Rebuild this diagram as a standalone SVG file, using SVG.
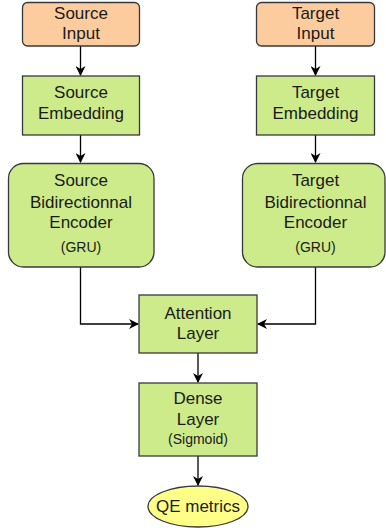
<svg xmlns="http://www.w3.org/2000/svg" width="386" height="528" viewBox="0 0 386 528">
<style>
.in{fill:#fccc9e;stroke:#36393d;stroke-width:1.3}
.gr{fill:#cdeb8b;stroke:#36393d;stroke-width:1.3}
.el{fill:#ffff88;stroke:#36393d;stroke-width:1.3}
text{font-family:"Liberation Sans",Arial,sans-serif;font-size:17px;fill:#1a1a1a;text-anchor:middle}
text.s{font-size:14px}
.c{fill:none;stroke:#000;stroke-width:1.3}
</style>
<defs>
<marker id="ah" viewBox="0 0 10 10" refX="9" refY="5" markerWidth="10" markerHeight="10" markerUnits="userSpaceOnUse" orient="auto">
<path d="M0,0 L10,5 L0,10 L3,5 Z" fill="#000"/>
</marker>
</defs>
<g id="connectors">
<path class="c" d="M80.5,46 V75" marker-end="url(#ah)"/>
<path class="c" d="M80.5,135 V162" marker-end="url(#ah)"/>
<path class="c" d="M315.5,46 V75" marker-end="url(#ah)"/>
<path class="c" d="M315.5,135 V162" marker-end="url(#ah)"/>
<path class="c" d="M80.5,267 V324 H138" marker-end="url(#ah)"/>
<path class="c" d="M315.5,267 V324 H258" marker-end="url(#ah)"/>
<path class="c" d="M198,353 V382" marker-end="url(#ah)"/>
<path class="c" d="M198,456 V485" marker-end="url(#ah)"/>
</g>
<g id="source-input">
<rect class="in" x="22.5" y="2.5" width="117" height="43.5" rx="5"/>
<text x="81" y="19">Source</text>
<text x="81" y="39">Input</text>
</g>
<g id="target-input">
<rect class="in" x="256.5" y="2.5" width="118" height="43.5" rx="5"/>
<text x="315.5" y="19">Target</text>
<text x="315.5" y="39">Input</text>
</g>
<g id="source-embedding">
<rect class="gr" x="22.5" y="76" width="117" height="59"/>
<text x="81" y="98">Source</text>
<text x="81" y="119">Embedding</text>
</g>
<g id="target-embedding">
<rect class="gr" x="256.5" y="76" width="118" height="59"/>
<text x="315.5" y="98">Target</text>
<text x="315.5" y="119">Embedding</text>
</g>
<g id="source-encoder">
<rect class="gr" x="8.5" y="163.5" width="145.5" height="103.5" rx="15"/>
<text x="81" y="186">Source</text>
<text x="81" y="208">Bidirectionnal</text>
<text x="81" y="228">Encoder</text>
<text class="s" x="81" y="252">(GRU)</text>
</g>
<g id="target-encoder">
<rect class="gr" x="242.5" y="163.5" width="142.5" height="103.5" rx="15"/>
<text x="315.5" y="186">Target</text>
<text x="315.5" y="208">Bidirectionnal</text>
<text x="315.5" y="228">Encoder</text>
<text class="s" x="315.5" y="252">(GRU)</text>
</g>
<g id="attention">
<rect class="gr" x="139" y="295" width="118" height="58"/>
<text x="198" y="319">Attention</text>
<text x="198" y="339">Layer</text>
</g>
<g id="dense">
<rect class="gr" x="139" y="383" width="118" height="73"/>
<text x="198" y="404">Dense</text>
<text x="198" y="425">Layer</text>
<text class="s" x="198" y="444">(Sigmoid)</text>
</g>
<g id="qe-metrics">
<ellipse class="el" cx="198" cy="506.5" rx="50" ry="20.5"/>
<text x="198" y="512">QE metrics</text>
</g>
</svg>
